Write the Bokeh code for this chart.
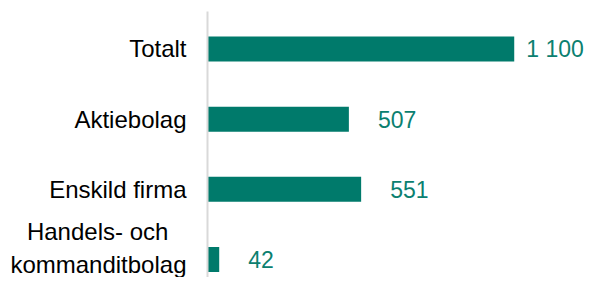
from bokeh.plotting import figure
from bokeh.models import Range1d, FixedTicker, ColumnDataSource
from bokeh.core.properties import value
from bokeh.embed import file_html
from bokeh.resources import INLINE

categories = ["Totalt", "Aktiebolag", "Enskild firma", "Handels- och\u00a0\u00a0\u2009\nkommanditbolag"]
values = [1100, 507, 551, 42]
value_labels = ["1 100", "507", "551", "42"]

BAR = "#007A6B"
LABEL = "#0B8070"
FONT = "Liberation Sans"

n = len(categories)
ypos = [n - 1 - i for i in range(n)]
offsets = [12 if v == max(values) else 29 for v in values]

src = ColumnDataSource(dict(y=ypos, v=values, lab=value_labels, off=offsets))

p = figure(width=584, height=277, output_backend="svg", toolbar_location=None,
           x_range=Range1d(0, 1352), y_range=Range1d(-0.2565, 3.534),
           x_axis_location=None, min_border_left=207, min_border_right=0,
           min_border_top=11, min_border_bottom=0)
p.outline_line_color = None
p.background_fill_color = "white"
p.border_fill_color = "white"
p.xgrid.visible = False
p.ygrid.visible = False

p.hbar(y="y", right="v", left=0, height=0.356, source=src, fill_color=BAR, line_color=None)
p.text(x="v", y="y", text="lab", source=src, x_offset="off", text_align="left",
       text_baseline="middle", text_color=LABEL, text_font=value(FONT),
       text_font_size="23px")

ax = p.yaxis[0]
ax.ticker = FixedTicker(ticks=ypos)
ax.major_label_overrides = {y: c for y, c in zip(ypos, categories)}
ax.axis_line_color = "#D9D9D9"
ax.axis_line_width = 2
ax.major_tick_line_color = None
ax.minor_tick_line_color = None
ax.major_tick_out = 0
ax.major_tick_in = 0
ax.major_label_standoff = 21
ax.major_label_text_font = FONT
ax.major_label_text_font_size = "24px"
ax.major_label_text_color = "#000000"

open("out.html", "w").write(file_html(p, INLINE))
